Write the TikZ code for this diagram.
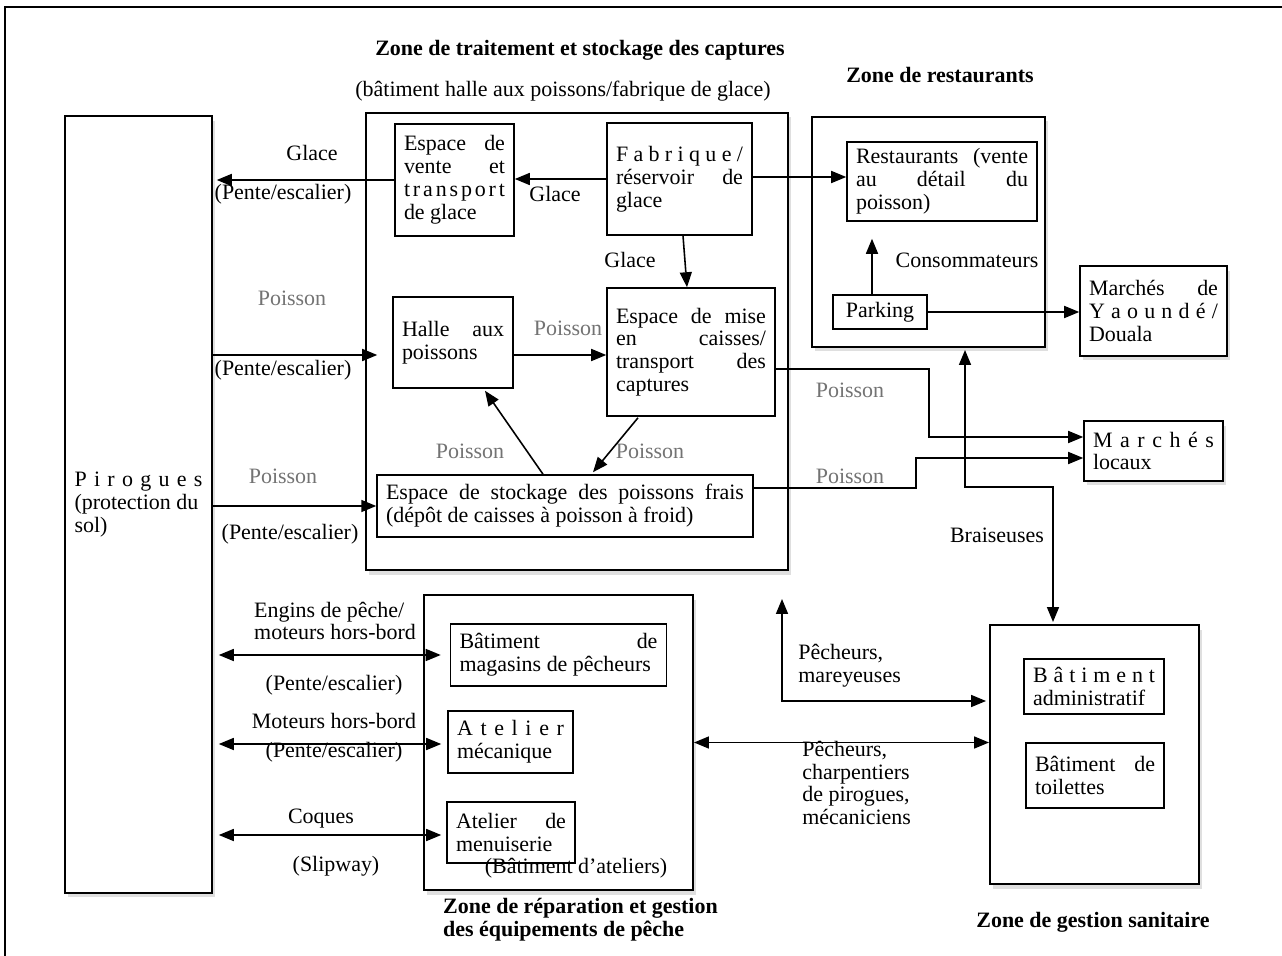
\documentclass[tikz,border=0pt]{standalone}
\usepackage{fontspec}
\setmainfont{Liberation Serif}
\usetikzlibrary{arrows.meta, positioning, calc, fit, shadows}

\makeatletter
\newcommand{\spread}[1]{\makebox[\hsize][s]{\spread@#1\@nil}}
\def\spread@#1#2\@nil{#1\ifx\relax#2\relax\else\hfil\spread@#2\@nil\fi}
\makeatother
\newcommand{\jl}[1]{{\spaceskip=.25em plus 1fil\relax\makebox[\hsize][s]{#1}}}

\begin{document}
\begin{tikzpicture}[
    x=0.02cm, y=-0.02cm,
    every node/.style={font=\fontsize{12.5}{13}\selectfont, execute at begin node={\spaceskip=0pt\relax}},
    castshadow/.style={fill=white, drop shadow={shadow xshift=0.06cm, shadow yshift=-0.09cm, opacity=0.25}},
    box/.style={rectangle, draw, line width=0.9pt, align=left, inner xsep=0.18cm, inner ysep=0pt},
    zone/.style={rectangle, draw, line width=1.1pt, inner sep=0pt, castshadow},
    title/.style={font=\fontsize{12.5}{13}\selectfont\bfseries},
    lbl/.style={inner sep=0pt},
    fishlbl/.style={lbl, text=black!55},
    arrow/.style={-{Triangle[length=0.3cm, width=0.24cm]}, line width=0.9pt},
    twoway/.style={{Triangle[length=0.3cm, width=0.24cm]}-{Triangle[length=0.3cm, width=0.24cm]}, line width=0.9pt}
]
    \useasboundingbox (0,0) rectangle (1282,956);
    \draw[line width=0.8pt] (5,956) -- (5,7) -- (1282,7);

    % zones
    \node[zone, fit={(366,113) (788,570)}] (trait) {};
    \node[zone, fit={(812,117) (1045,347)}] (resz) {};
    \node[zone, fit={(424,595) (693,890)}] (rep) {};
    \node[zone, fit={(990,625) (1199,884)}] (san) {};

    \node[title] (t-trait) at (580,50) {Zone de traitement et stockage des captures};
    \node (t-trait2) at (563,91) {(bâtiment halle aux poissons/fabrique de glace)};
    \node[title] (t-resz) at (940,75) {Zone de restaurants};
    \node[title, align=left, anchor=west] (t-rep) at (437,920) {Zone de réparation et gestion\\des équipements de pêche};
    \node[title] (t-san) at (1093,922) {Zone de gestion sanitaire};

    % boxes
    \node[box, castshadow, text width=2.56cm, minimum width=2.94cm, minimum height=15.54cm] (pir) at (138.5,504.5) {\spread{Pirogues}\\(protection du\\sol)};
    \node[box, text width=2.02cm, minimum width=2.38cm, minimum height=2.24cm] (vente) at (454.5,180) {\jl{Espace de}\\\jl{vente et}\\\spread{transport}\\de glace};
    \node[box, text width=2.54cm, minimum width=2.9cm, minimum height=2.24cm] (fab) at (679.5,179) {\spread{Fabrique/}\\\jl{réservoir de}\\glace};
    \node[box, text width=2.04cm, minimum width=2.4cm, minimum height=1.82cm] (halle) at (453,342.5) {\jl{Halle aux}\\poissons};
    \node[box, text width=3.0cm, minimum width=3.36cm, minimum height=2.56cm] (mise) at (691,352) {\jl{Espace de mise}\\\jl{en caisses/}\\\jl{transport des}\\captures};
    \node[box, text width=7.16cm, minimum width=7.52cm, minimum height=1.24cm] (stock) at (565,506) {\jl{Espace de stockage des poissons frais}\\(dépôt de caisses à poisson à froid)};
    \node[box, text width=3.44cm, minimum width=3.8cm, minimum height=1.58cm] (resto) at (942,181.5) {\jl{Restaurants (vente}\\\jl{au détail du}\\poisson)};
    \node[box, minimum width=1.88cm, minimum height=0.68cm] (park) at (880,312) {Parking};
    \node[box, castshadow, text width=2.58cm, minimum width=2.94cm, minimum height=1.8cm] (yao) at (1153.5,311) {\jl{Marchés de}\\\spread{Yaoundé/}\\Douala};
    \node[box, castshadow, text width=2.42cm, minimum width=2.78cm, minimum height=1.2cm] (loc) at (1153.5,451) {\spread{Marchés}\\locaux};
    \node[box, text width=3.96cm, minimum width=4.3cm, minimum height=1.24cm] (mag) at (558.5,655) {\jl{Bâtiment de}\\magasins de pêcheurs};
    \node[box, text width=2.14cm, minimum width=2.5cm, minimum height=1.24cm] (meca) at (510.5,742) {\spread{Atelier}\\mécanique};
    \node[box, text width=2.2cm, minimum width=2.56cm, minimum height=1.22cm] (menu) at (511,832.5) {\jl{Atelier de}\\menuiserie};
    \node[box, text width=2.44cm, minimum width=2.8cm, minimum height=1.1cm] (admin) at (1094,686.5) {\spread{Bâtiment}\\administratif};
    \node[box, text width=2.4cm, minimum width=2.76cm, minimum height=1.3cm] (toil) at (1095,775.5) {\jl{Bâtiment de}\\toilettes};

    % labels
    \node[lbl] (l-glace1) at (312,153) {Glace};
    \node[lbl] (l-pente1) at (283,194) {(Pente/escalier)};
    \node[lbl] (l-glace2) at (555,194) {Glace};
    \node[lbl] (l-glace3) at (630,260) {Glace};
    \node[fishlbl] (l-fish1) at (292,298) {Poisson};
    \node[lbl] (l-pente2) at (283,370) {(Pente/escalier)};
    \node[fishlbl] (l-fish2) at (568,328) {Poisson};
    \node[fishlbl] (l-fish3) at (470,451) {Poisson};
    \node[fishlbl] (l-fish4) at (650,451) {Poisson};
    \node[fishlbl] (l-fish5) at (283,476) {Poisson};
    \node[lbl] (l-pente3) at (290,534) {(Pente/escalier)};
    \node[fishlbl] (l-fish6) at (850,390) {Poisson};
    \node[fishlbl] (l-fish7) at (850,476) {Poisson};
    \node[lbl] (l-conso) at (967,260) {Consommateurs};
    \node[lbl] (l-brais) at (997,535) {Braiseuses};
    \node[lbl, align=left] (l-engins) at (335,621) {Engins de pêche/\\moteurs hors-bord};
    \node[lbl] (l-pente4) at (334,685) {(Pente/escalier)};
    \node[lbl] (l-moteurs) at (334,721) {Moteurs hors-bord};
    \node[lbl] (l-pente5) at (334,752) {(Pente/escalier)};
    \node[lbl] (l-coques) at (321,819) {Coques};
    \node[lbl] (l-slip) at (336,866) {(Slipway)};
    \node[lbl] (l-ateliers) at (576,868) {(Bâtiment d'ateliers)};
    \node[lbl, align=left, anchor=west] (l-mareyeuses) at (798,666) {Pêcheurs,\\mareyeuses};
    \node[lbl, align=left, anchor=west] (l-metiers) at (802,783) {Pêcheurs,\\charpentiers\\de pirogues,\\mécaniciens};

    % connectors
    \draw[arrow, shorten >=0.08cm] (vente.west) -- (vente.west -| pir.east);
    \draw[arrow] (fab.west) -- (fab.west -| vente.east);
    \draw[arrow] ($(fab.east)+(0,-2)$) -- ($(fab.east -| resto.west)+(0,-2)$);
    \draw[arrow] ($(fab.south)+(3.5,0)$) -- ($(mise.north)+(-4,0)$);
    \coordinate (h1) at ($(halle.east)+(0,12.5)$);
    \draw[arrow] (h1) -- (h1 -| mise.west);
    \draw[arrow, shorten >=0.3cm] (h1 -| pir.east) -- (h1 -| halle.west);
    \draw[arrow] ($(stock.north)+(-22,0)$) -- ($(halle.south)+(32,2)$);
    \draw[arrow] ($(mise.south)+(-53,1)$) -- ($(stock.north)+(28,-2)$);
    \draw[arrow] (stock.west -| pir.east) -- (stock.west);
    \coordinate (m1) at ($(mise.east)+(0,17)$);
    \coordinate (l1) at ($(loc.west)+(0,-14)$);
    \draw[arrow] (m1) -| ($(l1)+(-154,0)$) -- (l1);
    \coordinate (s1) at ($(stock.east)+(0,-18)$);
    \coordinate (l2) at ($(loc.west)+(0,7)$);
    \draw[arrow] (s1) -| ($(l2)+(-167,0)$) -- (l2);
    \draw[arrow] ($(park.north)+(-8,0)$) -- ($(resto.south)+(-70,17)$);
    \draw[arrow] (park.east) -- (park.east -| yao.west);
    \draw[twoway] ($(resz.south)+(36.5,2)$) |- ($(san.north)+(-41.5,-137)$) -- ($(san.north)+(-41.5,-2)$);
    \draw[twoway] ($(trait.south)+(205,28)$) |- ($(san.west)+(-3,-53.5)$);
    \draw[twoway] (rep.east) -- (rep.east -| san.west);
    \draw[twoway, shorten <=0.12cm, shorten >=0.18cm] (mag.west -| pir.east) -- (mag.west);
    \draw[twoway, shorten <=0.12cm, shorten >=0.12cm] ($(meca.west -| pir.east)+(0,2)$) -- ($(meca.west)+(0,2)$);
    \draw[twoway, shorten <=0.12cm, shorten >=0.1cm] ($(menu.west -| pir.east)+(0,2.5)$) -- ($(menu.west)+(0,2.5)$);
\end{tikzpicture}
\end{document}
